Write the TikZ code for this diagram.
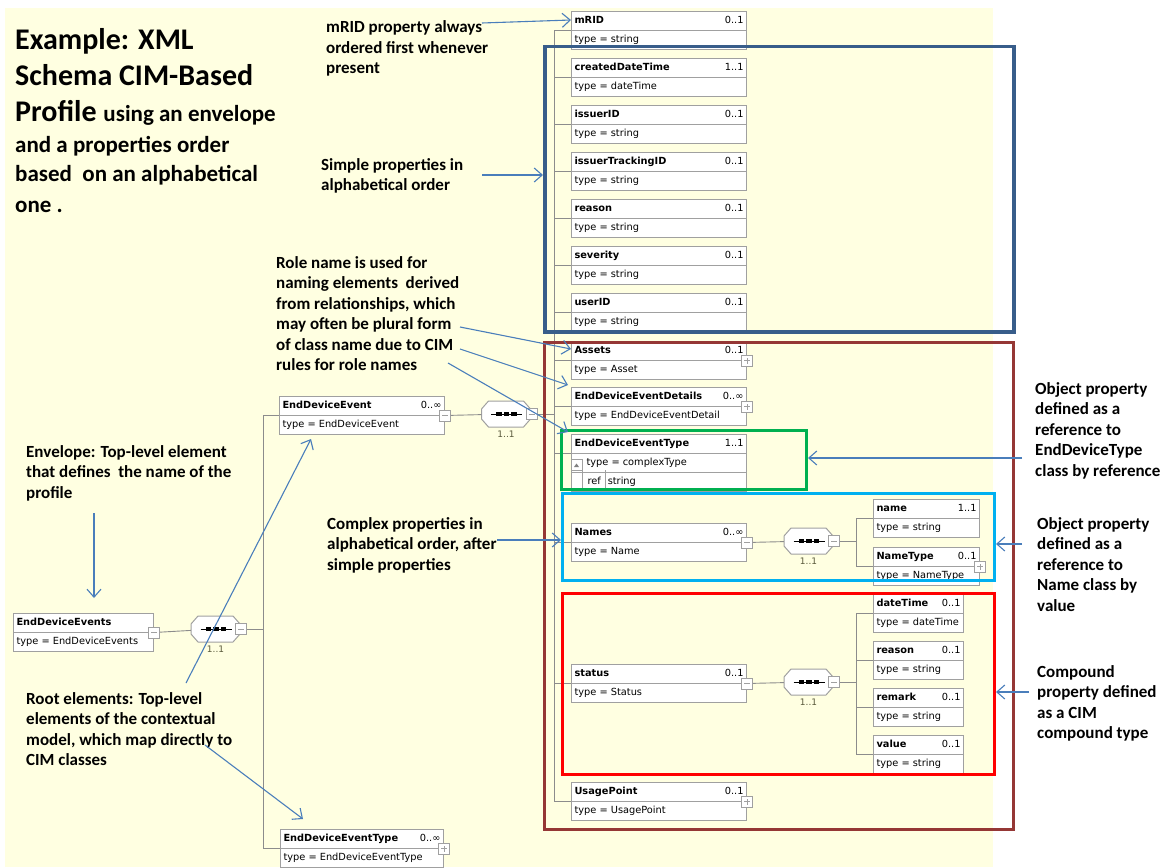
\documentclass[tikz,border=0pt]{standalone}
\usepackage{fontspec}
\setmainfont{DejaVu Sans}
\newfontfamily\annfamily{Carlito}
\usetikzlibrary{arrows.meta,shapes.multipart,calc}

\definecolor{bgyellow}{RGB}{255,255,225}
\definecolor{boxgray}{RGB}{160,160,160}
\definecolor{linegray}{RGB}{140,140,140}
\definecolor{annblue}{RGB}{74,126,187}
\definecolor{navybox}{RGB}{56,93,138}
\definecolor{brownbox}{RGB}{149,55,53}
\definecolor{greenbox}{RGB}{0,176,80}
\definecolor{cyanbox}{RGB}{0,176,240}
\definecolor{redbox}{RGB}{255,0,0}
\definecolor{multcol}{RGB}{90,90,60}

\newcommand\boxfont{\fontsize{9.8}{11.8}\selectfont}
\newcommand\annfont{\annfamily\bfseries\fontsize{17}{20.5}\selectfont}
\newcommand\titlefont{\annfamily\bfseries\fontsize{30}{34}\selectfont}
\newcommand\subtitlefont{\annfamily\bfseries\fontsize{23}{28}\selectfont}
\newcommand\rowstrut{\vrule width 0pt height 7.5pt depth 2.5pt}

% multi-line annotation whose baseline is that of its first line
\newcommand\annlines[1]{\vtop{\annfont\halign{##\hfil\cr#1\crcr}}}

% schema element: name, position (north west), width, title, multiplicity, type
\newcommand\elem[6]{%
  \node[elem] (#1) at (#2)
    {\hbox to \dimexpr#3pt-6pt\relax{\rowstrut\textbf{#4}\hfil #5}%
     \nodepart{two}\hbox to \dimexpr#3pt-6pt\relax{\rowstrut type = #6\hfil}};}

% expand/collapse button
\newcommand\btn[3]{\node[#3] (#1) at (#2) {};}

% sequence compositor with its button and cardinality
\newcommand\seqsym[2]{%
  \node[seqnode] (#1) at (#2) {};
  \draw[seqborder] ($(#1.center)+(-17.5,-13)$) -- ($(#1.center)+(17.5,-13)$)
    -- ($(#1.center)+(24.5,-5)$) -- ($(#1.center)+(24.5,5)$)
    -- ($(#1.center)+(17.5,13)$) -- ($(#1.center)+(-17.5,13)$)
    -- ($(#1.center)+(-24.5,5)$) -- ($(#1.center)+(-24.5,-5)$) -- cycle;
  \draw[black, line width=0.9pt] ($(#1.center)+(-15,0)$) -- ($(#1.center)+(16,0)$);
  \foreach \dx in {-7,0.5,8}
    \fill[black] ($(#1.center)+(\dx-2.8,-1.8)$) rectangle ($(#1.center)+(\dx+2.8,1.8)$);
  \node[btnminus] (#1-btn) at ([xshift=1pt]#1.east) {};
  \node[mult] (#1-lbl) at ($(#1.south)+(0,7)$) {1..1};
}

\tikzset{
  elem/.style={rectangle split, rectangle split parts=2, draw=boxgray,
    line width=1pt, fill=white, font=\boxfont, inner xsep=3pt, inner ysep=4pt,
    anchor=north west},
  conn/.style={draw=linegray, line width=0.9pt},
  btnbase/.style={rectangle, draw=boxgray, fill=white, line width=0.8pt,
    minimum size=11pt, inner sep=0pt},
  btnminus/.style={btnbase, path picture={
    \draw[boxgray, line width=0.8pt] ([xshift=2.5pt]path picture bounding box.west)
      -- ([xshift=-2.5pt]path picture bounding box.east);}},
  btnplus/.style={btnbase, path picture={
    \draw[boxgray, line width=0.8pt] ([xshift=2.5pt]path picture bounding box.west)
      -- ([xshift=-2.5pt]path picture bounding box.east);
    \draw[boxgray, line width=0.8pt] ([yshift=2.5pt]path picture bounding box.south)
      -- ([yshift=-2.5pt]path picture bounding box.north);}},
  seqnode/.style={rectangle, minimum width=49pt, minimum height=26pt, inner sep=0pt},
  seqborder/.style={draw=boxgray, fill=white, line width=1pt},
  mult/.style={font=\fontsize{9}{10}\selectfont, text=multcol, inner sep=0pt},
  hlbox/.style={rectangle, anchor=north west, inner sep=0pt},
  ann/.style={draw=annblue, line width=1.1pt, -{Straight Barb[length=8pt,width=14pt]}},
  annnode/.style={anchor=base west, inner sep=0pt},
  titlenode/.style={anchor=base west, inner sep=0pt, font=\titlefont},
}

\begin{document}
\begin{tikzpicture}[x=1pt,y=-1pt]
\useasboundingbox (0,0) rectangle (1166,867);
\fill[white] (0,0) rectangle (1166,867);
\fill[bgyellow] (5,8) rectangle (993,867);

% ---------- envelope and root elements ----------
\elem{edEvents}{13,613}{140}{EndDeviceEvents}{}{EndDeviceEvents}
\btn{edEvents-btn}{edEvents.text split east}{btnminus}
\seqsym{seq0}{215.5,629}
\coordinate (j0) at (263,629);

\elem{edEvent}{279,396}{165}{EndDeviceEvent}{0..∞}{EndDeviceEvent}
\btn{edEvent-btn}{edEvent.text split east}{btnminus}
\elem{edType}{280,829}{163}{EndDeviceEventType}{0..∞}{EndDeviceEventType}
\btn{edType-btn}{edType.text split east}{btnplus}

\draw[conn] (edEvents-btn) -- (seq0);
\draw[conn] (seq0-btn) -- (j0);
\draw[conn] (edEvent.text split west) -| (j0);
\draw[conn] (edType.text split west) -| (j0);

\seqsym{seq1}{506,414}
\coordinate (j1) at (554,414);
\draw[conn] (edEvent-btn) -- (seq1);
\draw[conn] (seq1-btn) -- (j1);

% ---------- properties of EndDeviceEvent ----------
\elem{mRID}{571,11}{175}{mRID}{0..1}{string}
\elem{created}{571,58}{175}{createdDateTime}{1..1}{dateTime}
\elem{issuerID}{571,105}{175}{issuerID}{0..1}{string}
\elem{issuerTr}{571,152}{175}{issuerTrackingID}{0..1}{string}
\elem{reason}{571,199}{175}{reason}{0..1}{string}
\elem{severity}{571,246}{175}{severity}{0..1}{string}
\elem{userID}{571,293}{175}{userID}{0..1}{string}
\elem{assets}{571,341}{175}{Assets}{0..1}{Asset}
\btn{assets-btn}{assets.text split east}{btnplus}
\elem{details}{571,387}{175}{EndDeviceEventDetails}{0..∞}{EndDeviceEventDetail}
\btn{details-btn}{details.text split east}{btnplus}

% referenced type with its attribute row
\node[elem, rectangle split parts=3] (edet) at (571,434)
  {\hbox to 169pt{\rowstrut\textbf{EndDeviceEventType}\hfil 1..1}%
   \nodepart{two}\hbox to 169pt{\rowstrut\hspace{12pt}type = complexType\hfil}%
   \nodepart{three}\hbox to 169pt{\rowstrut\hspace{13pt}ref\hspace{7pt}string\hfil}};
\draw[boxgray, line width=0.8pt] ($(edet.north west)+(11,36)$) -- ($(edet.south west)+(11,0)$);
\draw[boxgray, line width=0.8pt] ($(edet.north west)+(34,36)$) -- ($(edet.north west)+(34,54)$);
\draw[boxgray, line width=0.8pt, fill=white] ($(edet.north west)+(0,25)$) rectangle ($(edet.north west)+(11,36)$);
\fill[gray] ($(edet.north west)+(3,33)$) -- ($(edet.north west)+(8,33)$) -- ($(edet.north west)+(5.5,29.5)$) -- cycle;

\elem{names}{571,523}{175}{Names}{0..∞}{Name}
\btn{names-btn}{names.text split east}{btnminus}
\elem{status}{571,664}{175}{status}{0..1}{Status}
\btn{status-btn}{status.text split east}{btnminus}
\elem{usage}{571,782}{175}{UsagePoint}{0..1}{UsagePoint}
\btn{usage-btn}{usage.text split east}{btnplus}

\foreach \n in {mRID,created,issuerID,issuerTr,reason,severity,userID,
                assets,details,edet,names,status,usage}
  \draw[conn] (\n.text split west) -| (j1);

% ---------- Name content ----------
\seqsym{seq2}{808.5,541}
\coordinate (j2) at (856,541);
\elem{name}{873,499}{106}{name}{1..1}{string}
\elem{nameType}{873,547}{106}{NameType}{0..1}{NameType}
\btn{nameType-btn}{nameType.text split east}{btnplus}
\draw[conn] (names-btn) -- (seq2);
\draw[conn] (seq2-btn) -- (j2);
\foreach \n in {name,nameType} \draw[conn] (\n.text split west) -| (j2);

% ---------- Status content ----------
\seqsym{seq3}{808.5,682}
\coordinate (j3) at (856,682);
\elem{sDateTime}{873,594}{90}{dateTime}{0..1}{dateTime}
\elem{sReason}{873,641}{90}{reason}{0..1}{string}
\elem{sRemark}{873,688}{90}{remark}{0..1}{string}
\elem{sValue}{873,735}{90}{value}{0..1}{string}
\draw[conn] (status-btn) -- (seq3);
\draw[conn] (seq3-btn) -- (j3);
\foreach \n in {sDateTime,sReason,sRemark,sValue} \draw[conn] (\n.text split west) -| (j3);

% ---------- grouping frames ----------
\node[hlbox, draw=navybox, line width=3.5pt, minimum width=469pt, minimum height=285pt] (grpSimple) at (543,45) {};
\node[hlbox, draw=brownbox, line width=3pt, minimum width=469pt, minimum height=487pt] (grpObj) at (543,341) {};
\node[hlbox, draw=greenbox, line width=3pt, minimum width=245pt, minimum height=59pt] (grpRef) at (560,429) {};
\node[hlbox, draw=cyanbox, line width=3pt, minimum width=432pt, minimum height=87pt] (grpName) at (561,492) {};
\node[hlbox, draw=redbox, line width=3pt, minimum width=432pt, minimum height=181pt] (grpComp) at (561,592) {};

% ---------- title ----------
\node[titlenode] (title1) at (15,49) {Example: XML};
\node[titlenode] (title2) at (15,85) {Schema CIM-Based};
\node[titlenode] (title3) at (15,121) {Profile {\subtitlefont using an envelope}};
\node[titlenode, font=\subtitlefont] (title4) at (15,152) {and a properties order};
\node[titlenode, font=\subtitlefont] (title5) at (15,181) {based\ \ on an alphabetical};
\node[titlenode, font=\subtitlefont] (title6) at (15,212) {one .};

% ---------- annotations ----------
\node[annnode] (annMRID) at (326,33) {\annlines{mRID property always\cr ordered first whenever\cr present}};
\node[annnode] (annSimple) at (321,170) {\annlines{Simple properties in\cr alphabetical order}};
\node[annnode] (annRole) at (276,268) {\annlines{Role name is used for\cr naming elements\ \ derived\cr from relationships, which\cr may often be plural form\cr of class name due to CIM\cr rules for role names}};
\node[annnode] (annEnv) at (26,457) {\annlines{Envelope: Top-level element\cr that defines\ \ the name of the\cr profile}};
\node[annnode] (annRoot) at (26,704) {\annlines{Root elements: Top-level\cr elements of the contextual\cr model, which map directly to\cr CIM classes}};
\node[annnode] (annComplex) at (327,529) {\annlines{Complex properties in\cr alphabetical order, after\cr simple properties}};
\node[annnode] (annRef) at (1035,394) {\annlines{Object property\cr defined as a\cr reference to\cr EndDeviceType\cr class by reference}};
\node[annnode] (annValue) at (1037,529) {\annlines{Object property\cr defined as a\cr reference to\cr Name class by\cr value}};
\node[annnode] (annComp) at (1037,677) {\annlines{Compound\cr property defined\cr as a CIM\cr compound type}};

% ---------- annotation arrows ----------
\coordinate (aMRID) at (482,23);
\draw[ann] (aMRID) -- ([yshift=-9pt]mRID.north west);
\coordinate (aSimple) at (482,175);
\draw[ann] (aSimple) -- (aSimple -| grpSimple.west);
\coordinate (aRole1) at (460,327);
\draw[ann] (aRole1) -- ([yshift=-8pt]assets.north west);
\coordinate (aRole2) at (460,349);
\draw[ann] (aRole2) -- ([xshift=-3pt,yshift=2pt]details.north west);
\coordinate (aRole3) at (448,363);
\draw[ann] (aRole3) -- ([xshift=-3pt,yshift=2pt]edet.north west);
\coordinate (aEnv) at (94,513);
\draw[ann] (aEnv) -- ([yshift=15pt]aEnv |- edEvents.north);
\coordinate (aRoot1) at (186,683);
\draw[ann] (aRoot1) -- ([xshift=32pt,yshift=-4pt]edEvent.south west);
\coordinate (aRoot2) at (205,745);
\draw[ann] (aRoot2) -- ([xshift=23pt,yshift=10pt]edType.north west);
\coordinate (aComplex) at (497,540);
\draw[ann] (aComplex) -- (aComplex -| grpName.west);
\coordinate (aRef) at (1022,458);
\draw[ann] (aRef) -- (aRef -| grpRef.east);
\coordinate (aValue) at (1022,544);
\draw[ann] (aValue) -- (aValue -| grpName.east);
\coordinate (aComp) at (1029,692);
\draw[ann] (aComp) -- (aComp -| grpComp.east);
\end{tikzpicture}
\end{document}
